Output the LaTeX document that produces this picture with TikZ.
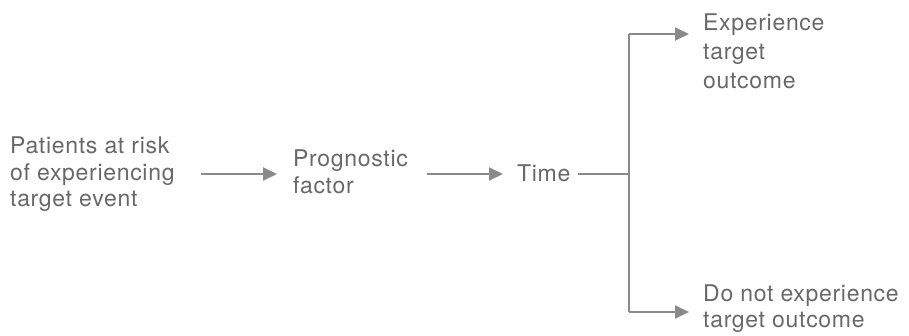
\documentclass[tikz,border=0pt]{standalone}
\usepackage{fontspec}
\setmainfont{TeX Gyre Heros}[LetterSpace=3]
\usetikzlibrary{arrows.meta}
\definecolor{txtgray}{RGB}{104,104,104}
\definecolor{linegray}{RGB}{138,138,138}
\tikzset{
  lbl/.style={anchor=west, inner sep=0pt, align=left, text=txtgray,
    font=\fontsize{23}{26.5}\selectfont},
  flow/.style={draw=linegray, line width=2pt},
  flowarrow/.style={flow, -{Triangle[length=14pt, width=13pt]}, color=linegray}
}
\begin{document}
\begin{tikzpicture}[x=1pt, y=1pt]
  \useasboundingbox (0,0) rectangle (909,335);

  % text blocks
  \node[lbl] (pat) at (10,160.5) {Patients at risk\\of experiencing\\target event};
  \node[lbl] (prog) at (293,163) {Prognostic\\factor};
  \node[lbl] (time) at (517,161.5) {Time};
  \node[lbl, font=\fontsize{23}{29}\selectfont] (exp) at (703,284) {Experience\\target\\outcome};
  \node[lbl] (noexp) at (703,26.5) {Do not experience\\target outcome};

  % branching points
  \coordinate (fork) at (629,161);
  \coordinate (up) at (629,301);
  \coordinate (down) at (629,23);

  % main flow
  \draw[flowarrow] ([xshift=26pt]pat.east |- fork) -- ([xshift=-16pt]prog.west |- fork);
  \draw[flowarrow] ([xshift=19pt]prog.east |- fork) -- ([xshift=-14pt]time.west |- fork);
  \draw[flow] ([xshift=7pt]time.east |- fork) -- (fork);

  % two outcomes
  \draw[flow] (up) -- (down);
  \draw[flowarrow] (up) -- ([xshift=-14pt]exp.west |- up);
  \draw[flowarrow] (down) -- ([xshift=-14pt]noexp.west |- down);
\end{tikzpicture}
\end{document}
